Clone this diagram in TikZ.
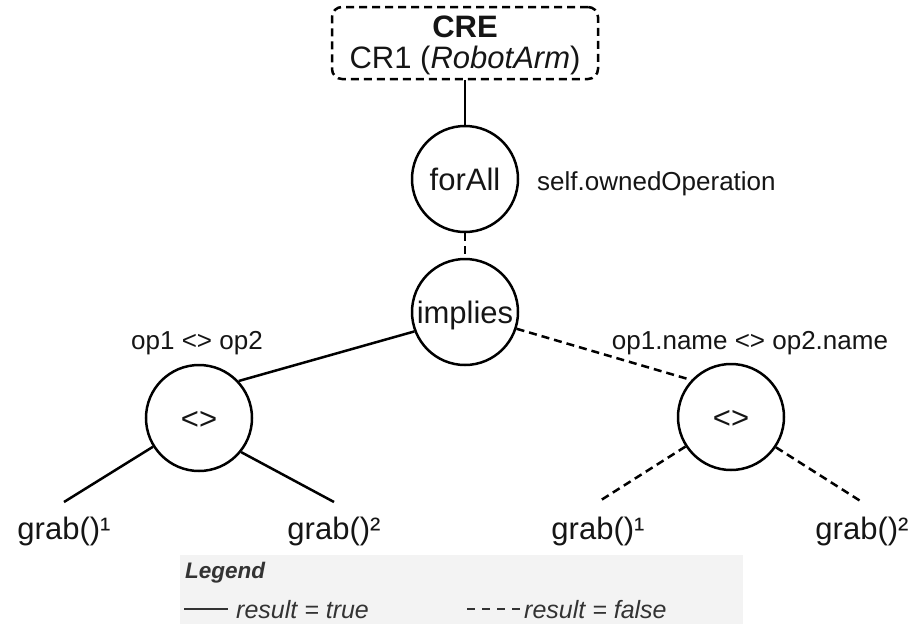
\documentclass[tikz,border=0pt]{standalone}
\usepackage{fontspec}
\setmainfont{Liberation Sans}
\definecolor{ink}{HTML}{151515}
\definecolor{legendfill}{HTML}{F3F3F3}
\definecolor{legendink}{HTML}{333333}
\begin{document}
\begin{tikzpicture}[x=1pt,y=-1pt,
  bigfont/.style={font=\fontsize{31}{36}\selectfont},
  opnode/.style={circle, draw, line width=2.5pt, minimum size=106pt, inner sep=0pt,
    bigfont, text=ink, text height=22pt, text depth=0pt},
  leaf/.style={bigfont, text=ink, anchor=north, inner xsep=0pt, inner ysep=14pt,
    text height=23pt, text depth=7pt},
  note/.style={font=\fontsize{26}{30}\selectfont, text=ink, anchor=base, inner sep=0pt},
  truelink/.style={line width=2.5pt},
  falselink/.style={line width=2.5pt, dash pattern=on 8pt off 5pt},
  legendtext/.style={font=\fontsize{25}{30}\selectfont\itshape, text=legendink,
    anchor=base west, inner sep=0pt}
]
\useasboundingbox (0,0) rectangle (919,624);

% context box
\node[draw, line width=2.5pt, dash pattern=on 8pt off 5pt, rounded corners=10pt,
      minimum width=266pt, minimum height=72pt] (cre) at (465,43) {};
\node[bigfont, text=ink, anchor=base, inner sep=0pt] (cretitle) at (465,37) {\bfseries CRE};
\node[bigfont, text=ink, anchor=base, inner sep=0pt] (crename) at (465,68) {CR1 (\textit{RobotArm})};

% operation nodes
\node[opnode] (forall) at (465,179) {forAll};
\node[opnode] (implies) at (465,312) {implies};
\node[opnode] (ltest) at (199,418) {<>};
\node[opnode] (rtest) at (731,417) {<>};

% annotations
\node[note, anchor=base west] (src) at (537,190) {self.ownedOperation};
\node[note] (lnote) at (197,349) {op1 <> op2};
\node[note] (rnote) at (750,349) {op1.name <> op2.name};

% leaves
\node[leaf] (lg1) at (64,502) {grab()¹};
\node[leaf] (lg2) at (334,502) {grab()²};
\node[leaf] (rg1) at (598,502) {grab()¹};
\node[leaf] (rg2) at (862,502) {grab()²};

% connectors
\draw[truelink] (cre.south) -- (forall.north);
\draw[falselink] (forall.south) -- (implies.north);
\draw[truelink] (implies.201) -- (ltest.43);
\draw[falselink] (implies.342) -- (rtest.137);
\draw[truelink] (ltest.212) -- (lg1.north);
\draw[truelink] (ltest.321) -- (lg2.north);
\draw[falselink] (rtest.213) -- (rg1.north);
\draw[falselink] (rtest.326) -- (rg2.north);

% legend
\node[fill=legendfill, inner sep=0pt, minimum width=563pt, minimum height=69pt] (legend) at (461.5,589.5) {};
\node[font=\fontsize{22.5}{27}\selectfont\bfseries\itshape, text=legendink,
      anchor=base west, inner sep=0pt] (legendtitle) at (185,578) {Legend};
\coordinate (ts) at (184,609);
\coordinate (te) at (228,609);
\draw[line width=1.8pt, legendink] (ts) -- (te);
\node[legendtext] (truetext) at (236,618) {result = true};
\coordinate (fs) at (467,609);
\coordinate (fe) at (520,609);
\draw[line width=1.8pt, legendink, dash pattern=on 8pt off 7pt] (fs) -- (fe);
\node[legendtext] (falsetext) at (524,618) {result = false};
\end{tikzpicture}
\end{document}
